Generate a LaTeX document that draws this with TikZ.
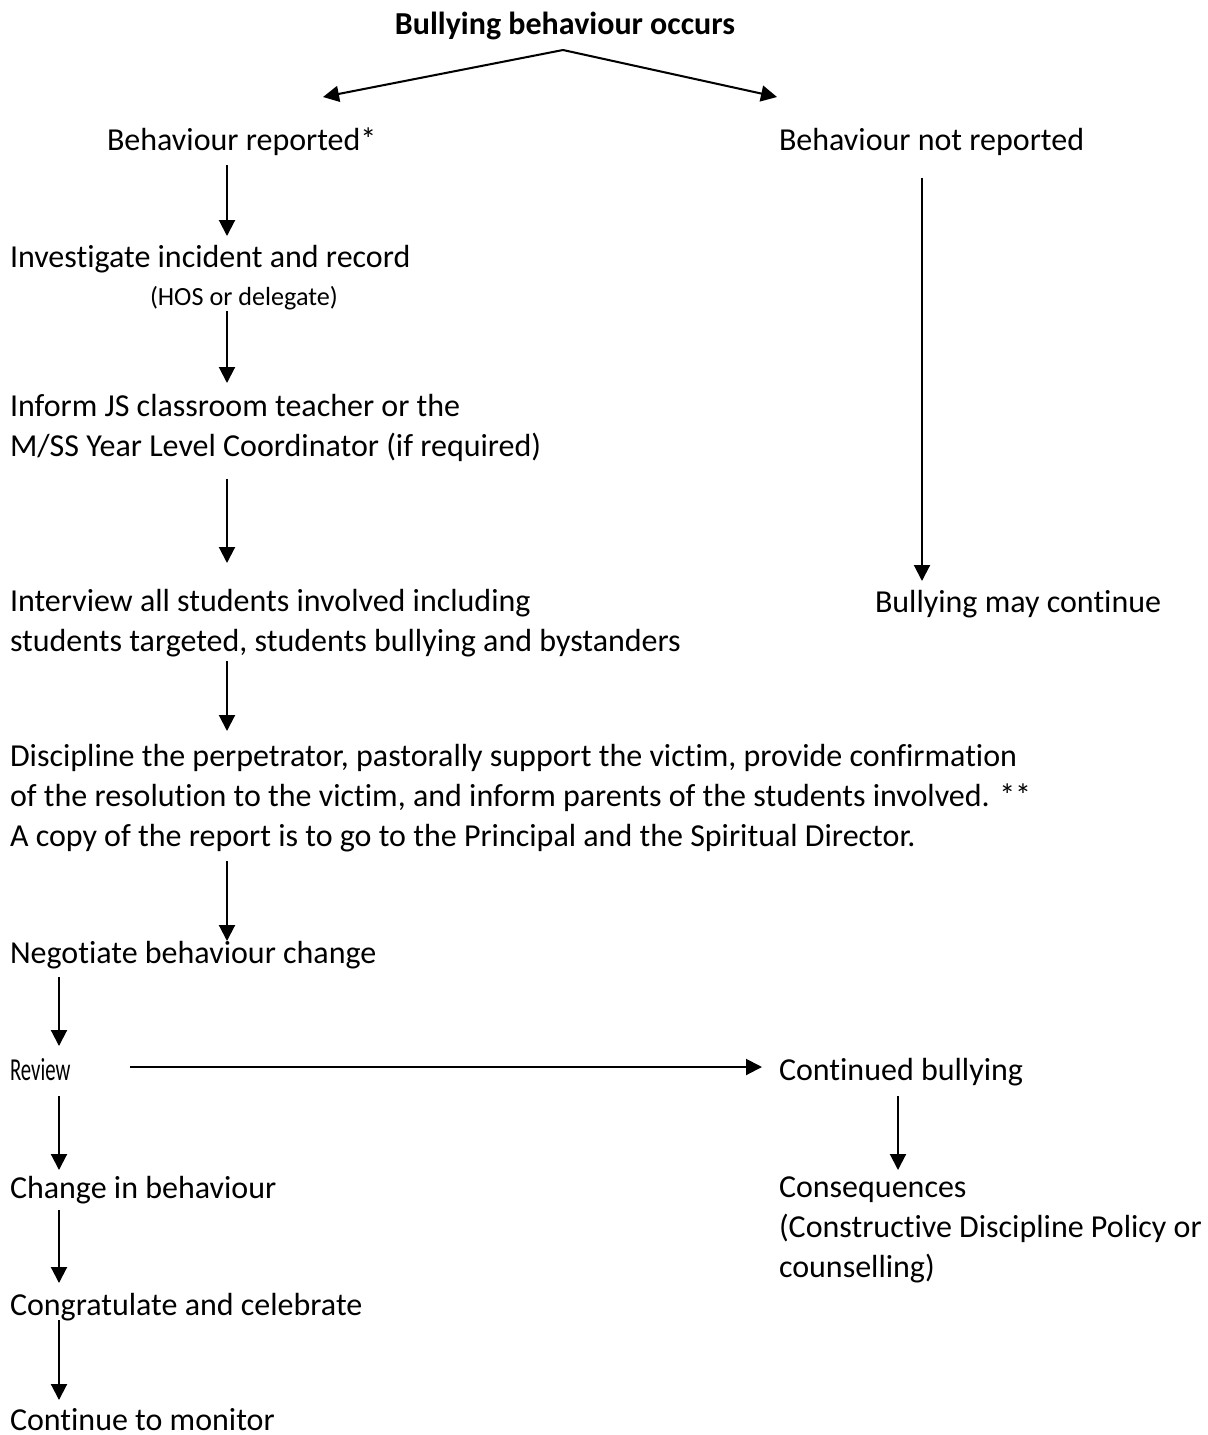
\documentclass[tikz,border=0pt]{standalone}
\usepackage{fontspec}
\setmainfont[Ligatures=NoCommon]{Carlito}
\usetikzlibrary{arrows.meta}
\begin{document}
\begin{tikzpicture}[x=0.34375pt,y=-0.34375pt,
  txt/.style={anchor=base west,inner sep=0pt,outer sep=0pt,align=left,font=\fontsize{11}{13.6}\selectfont},
  arr/.style={line width=0.7pt,-{Triangle[length=5.5pt,width=5.5pt]}}]
\path[use as bounding box,fill=white] (0,0) rectangle (1207,1435);
% nodes (base = baseline of last line)
\node[txt,anchor=base,font=\fontsize{11}{13.6}\selectfont\bfseries] (top) at (565,34) {Bullying behaviour occurs};
\node[txt] (rep) at (107,150) {Behaviour reported*};
\node[txt] (nrep) at (779,150) {Behaviour not reported};
\node[txt] (inv) at (10,267) {Investigate incident and record};
\node[txt,font=\fontsize{9}{11}\selectfont] (hos) at (150,305) {(HOS or delegate)};
\node[txt] (inf) at (10,456) {Inform JS classroom teacher or the\\M/SS Year Level Coordinator (if required)};
\node[txt] (intv) at (10,651) {Interview all students involved including\\students targeted, students bullying and bystanders};
\node[txt] (cont) at (875,612) {Bullying may continue};
\node[txt] (disc) at (10,846) {Discipline the perpetrator, pastorally support the victim, provide confirmation\\of the resolution to the victim, and inform parents of the students involved. **\\A copy of the report is to go to the Principal and the Spiritual Director.};
\node[txt] (neg) at (10,963) {Negotiate behaviour change};
\node[txt] (rev) at (10,1080) {\scalebox{0.65}[1]{Review}};
\node[txt] (cb) at (779,1080) {Continued bullying};
\node[txt] (chg) at (10,1198) {Change in behaviour};
\node[txt] (cons) at (779,1277) {Consequences\\(Constructive Discipline Policy or\\counselling)};
\node[txt] (cong) at (10,1315) {Congratulate and celebrate};
\node[txt] (mon) at (10,1430) {Continue to monitor};
% connector endpoints
\coordinate (apex) at (563,50);
\coordinate (repN) at (323,97);
\coordinate (nrepN) at (777,97);
\coordinate (repS) at (227,165); \coordinate (invN) at (227,236);
\coordinate (hosS) at (227,311); \coordinate (infN) at (227,383);
\coordinate (infS) at (227,479); \coordinate (intvN) at (227,563);
\coordinate (intvS) at (227,661); \coordinate (discN) at (227,731);
\coordinate (discS) at (227,861); \coordinate (negN) at (227,941);
\coordinate (negS) at (59,977); \coordinate (revN) at (59,1046);
\coordinate (revE) at (130,1067); \coordinate (cbW) at (762,1067);
\coordinate (revS) at (59,1096); \coordinate (chgN) at (59,1170);
\coordinate (chgS) at (59,1210); \coordinate (congN) at (59,1283);
\coordinate (congS) at (59,1320); \coordinate (monN) at (59,1400);
\coordinate (nrepS) at (922,178); \coordinate (contN) at (922,581);
\coordinate (cbS) at (898,1096); \coordinate (consN) at (898,1170);
% connectors
\draw[arr] (apex) -- (repN);
\draw[arr] (apex) -- (nrepN);
\draw[arr] (repS) -- (invN);
\draw[arr] (hosS) -- (infN);
\draw[arr] (infS) -- (intvN);
\draw[arr] (intvS) -- (discN);
\draw[arr] (discS) -- (negN);
\draw[arr] (negS) -- (revN);
\draw[arr] (revE) -- (cbW);
\draw[arr] (revS) -- (chgN);
\draw[arr] (chgS) -- (congN);
\draw[arr] (congS) -- (monN);
\draw[arr] (nrepS) -- (contN);
\draw[arr] (cbS) -- (consN);
\end{tikzpicture}
\end{document}
